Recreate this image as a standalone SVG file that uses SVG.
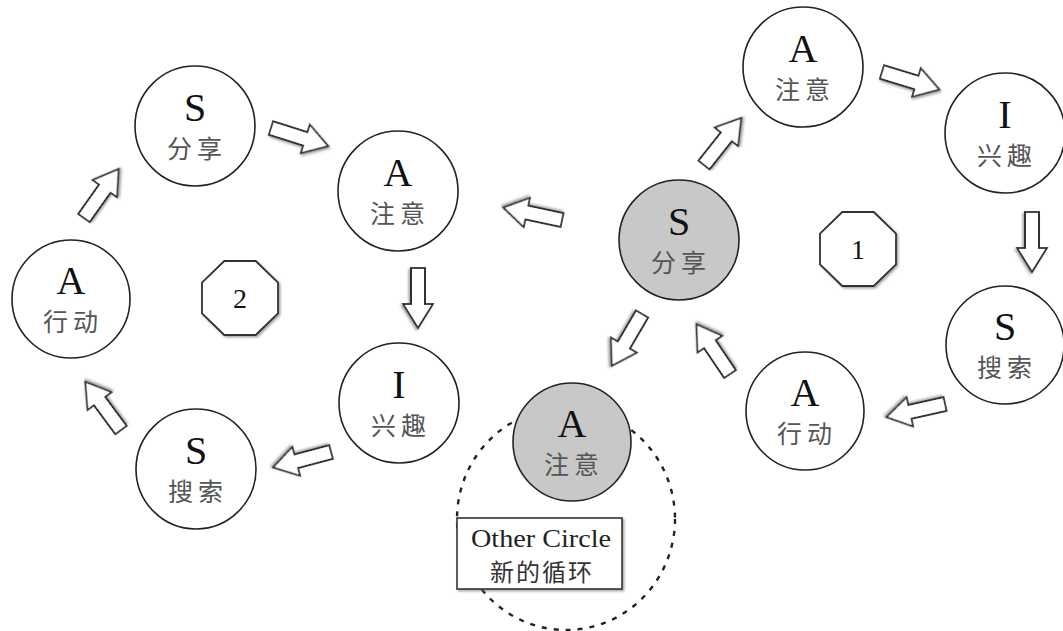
<svg xmlns="http://www.w3.org/2000/svg" xmlns:xlink="http://www.w3.org/1999/xlink" width="1063" height="631" viewBox="0 0 1063 631">
<defs>
<style>
.c{fill:#fff;stroke:#222;stroke-width:1.6}
.g{fill:#c8c8c8;stroke:#222;stroke-width:1.6}
.L{font-family:"Liberation Serif","Noto Sans CJK SC",serif;font-size:40px;fill:#111;text-anchor:middle}
.Z{font-family:"Noto Sans CJK SC",sans-serif;font-size:25px;fill:#555;text-anchor:middle;letter-spacing:5px}
.N{font-family:"Liberation Serif",serif;font-size:28px;fill:#111;text-anchor:middle}
.oct{fill:#fff;stroke:#333;stroke-width:1.8;filter:url(#sh)}
.arr{fill:#fff;stroke:#333;stroke-width:1.8;filter:url(#sh)}
</style>
<filter id="sh" x="-30%" y="-30%" width="160%" height="160%">
<feDropShadow dx="1.5" dy="1.5" stdDeviation="1.2" flood-color="#666" flood-opacity="0.6"/>
</filter>
<path id="arrow" d="M0,-7 L36,-7 L36,-15 L60,0 L36,15 L36,7 L0,7 Z"/>
<polygon id="octa" points="-15.7,-37 15.7,-37 38,-15.3 38,15.3 15.7,37 -15.7,37 -38,15.3 -38,-15.3"/>
</defs>
<rect width="1063" height="631" fill="#fff"/>

<g id="connectors">
<use xlink:href="#arrow" href="#arrow" class="arr" transform="translate(84,218) rotate(-54.7)"/>
<use xlink:href="#arrow" href="#arrow" class="arr" transform="translate(271,128) rotate(17.6)"/>
<use xlink:href="#arrow" href="#arrow" class="arr" transform="translate(418,268) rotate(90)"/>
<use xlink:href="#arrow" href="#arrow" class="arr" transform="translate(331,452) rotate(165.1)"/>
<use xlink:href="#arrow" href="#arrow" class="arr" transform="translate(121,430) rotate(233.5)"/>
<use xlink:href="#arrow" href="#arrow" class="arr" transform="translate(562,220) rotate(192)"/>
<use xlink:href="#arrow" href="#arrow" class="arr" transform="translate(704,165) rotate(-51.6)"/>
<use xlink:href="#arrow" href="#arrow" class="arr" transform="translate(882,72) rotate(17)"/>
<use xlink:href="#arrow" href="#arrow" class="arr" transform="translate(1032,212) rotate(90)"/>
<use xlink:href="#arrow" href="#arrow" class="arr" transform="translate(945,404) rotate(167.4)"/>
<use xlink:href="#arrow" href="#arrow" class="arr" transform="translate(730,374) rotate(236)"/>
<use xlink:href="#arrow" href="#arrow" class="arr" transform="translate(642,314) rotate(120.3)"/>
</g>

<g id="other-circle-ring">
<ellipse cx="566" cy="519" rx="109" ry="111" fill="none" stroke="#222" stroke-width="2.4" stroke-dasharray="5 7"/>
</g>

<g id="left-share">
<circle class="c" cx="195" cy="126" r="60"/>
<text class="L" x="195" y="121">S</text>
<text class="Z" x="197" y="158">分享</text>
</g>
<g id="left-attention">
<circle class="c" cx="398" cy="191" r="60"/>
<text class="L" x="398" y="186">A</text>
<text class="Z" x="400" y="223">注意</text>
</g>
<g id="left-action">
<circle class="c" cx="71" cy="299" r="59"/>
<text class="L" x="71" y="294">A</text>
<text class="Z" x="73" y="331">行动</text>
</g>
<g id="left-interest">
<circle class="c" cx="399" cy="403" r="60"/>
<text class="L" x="399" y="398">I</text>
<text class="Z" x="401" y="435">兴趣</text>
</g>
<g id="left-search">
<circle class="c" cx="196" cy="469" r="60"/>
<text class="L" x="196" y="464">S</text>
<text class="Z" x="198" y="501">搜索</text>
</g>
<g id="oct-2">
<use xlink:href="#octa" href="#octa" class="oct" transform="translate(240,298)"/>
<text class="N" x="240" y="308">2</text>
</g>

<g id="right-attention">
<circle class="c" cx="803" cy="67" r="60"/>
<text class="L" x="803" y="62">A</text>
<text class="Z" x="805" y="99">注意</text>
</g>
<g id="right-interest">
<circle class="c" cx="1005" cy="133" r="60"/>
<text class="L" x="1005" y="128">I</text>
<text class="Z" x="1007" y="165">兴趣</text>
</g>
<g id="center-share">
<circle class="g" cx="679" cy="240" r="60"/>
<text class="L" x="679" y="235">S</text>
<text class="Z" x="681" y="272">分享</text>
</g>
<g id="right-search">
<circle class="c" cx="1005" cy="345" r="59"/>
<text class="L" x="1005" y="340">S</text>
<text class="Z" x="1007" y="377">搜索</text>
</g>
<g id="right-action">
<circle class="c" cx="805" cy="411" r="59"/>
<text class="L" x="805" y="406">A</text>
<text class="Z" x="807" y="443">行动</text>
</g>
<g id="oct-1">
<use xlink:href="#octa" href="#octa" class="oct" transform="translate(858,249)"/>
<text class="N" x="858" y="259">1</text>
</g>
<g id="new-attention">
<circle class="g" cx="572" cy="442" r="59"/>
<text class="L" x="572" y="437">A</text>
<text class="Z" x="574" y="474">注意</text>
</g>

<g id="other-circle-label">
<rect x="457" y="518" width="165" height="71" fill="#fff" stroke="#333" stroke-width="1.6" filter="url(#sh)"/>
<text x="541" y="547" font-family="'Liberation Serif',serif" font-size="25" fill="#222" text-anchor="middle" textLength="140" lengthAdjust="spacingAndGlyphs">Other Circle</text>
<text x="542" y="581" font-family="'Noto Sans CJK SC',sans-serif" font-size="24" fill="#333" text-anchor="middle" letter-spacing="2">新的循环</text>
</g>
</svg>
